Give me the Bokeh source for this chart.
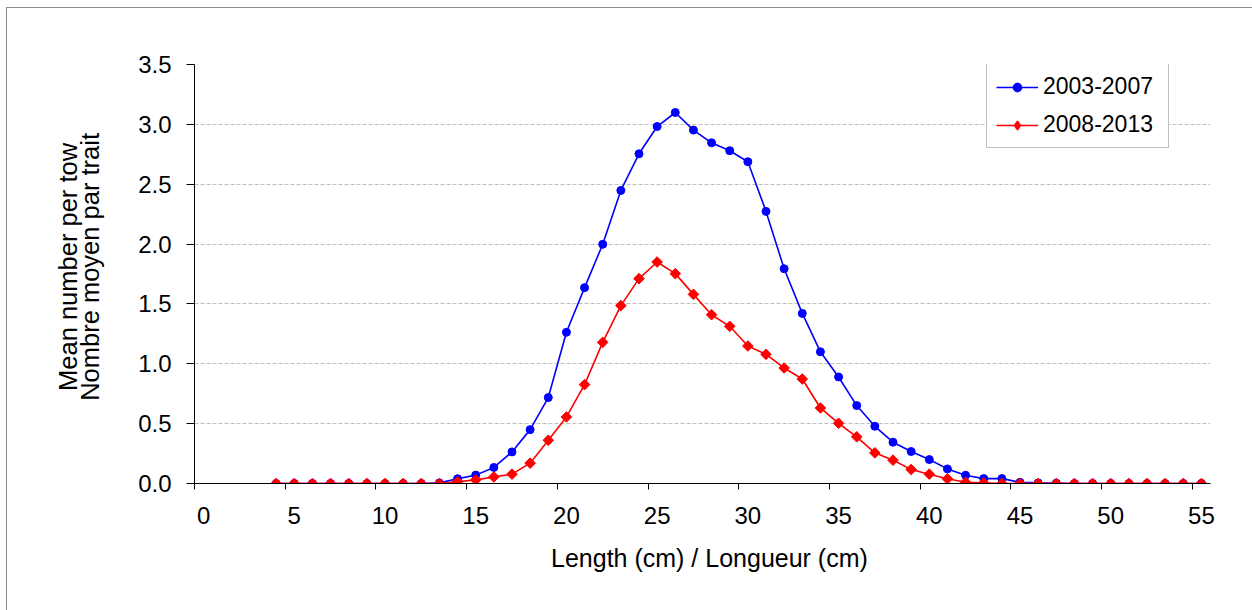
from bokeh.plotting import figure
from bokeh.models import (Range1d, FixedTicker, LinearAxis, Legend, LegendItem,
                          ColumnDataSource, CustomJSTickFormatter)
from bokeh.embed import file_html
from bokeh.resources import INLINE
import math

lengths = list(range(4, 56))
series_a_name = "2003-2007"
series_b_name = "2008-2013"
series_a = [0, 0, 0, 0, 0, 0, 0, 0,          # 4-11
            0.0, 0.005, 0.04, 0.07, 0.134, 0.264, 0.45, 0.718,   # 12-19
            1.263, 1.636, 1.998, 2.448, 2.754, 2.982, 3.099, 2.952,  # 20-27
            2.846, 2.78, 2.688, 2.273, 1.794, 1.421, 1.10, 0.89,   # 28-35
            0.651, 0.478, 0.345, 0.267, 0.20, 0.122, 0.069, 0.041,  # 36-43
            0.041, 0.01, 0.005, 0.003, 0, 0, 0, 0,   # 44-51
            0, 0, 0, 0]                              # 52-55
series_b = [0, 0, 0, 0, 0, 0, 0, 0,          # 4-11
            0.0, 0.0, 0.015, 0.03, 0.055, 0.078, 0.17, 0.361,   # 12-19
            0.556, 0.826, 1.179, 1.486, 1.711, 1.85, 1.753, 1.58,  # 20-27
            1.41, 1.313, 1.149, 1.079, 0.965, 0.873, 0.631, 0.503,  # 28-35
            0.39, 0.256, 0.195, 0.117, 0.078, 0.039, 0.01, 0.005,  # 36-43
            0, 0, 0, 0, 0, 0, 0, 0,   # 44-51
            0, 0, 0, 0]
x_tick_labels = [0, 5, 10, 15, 20, 25, 30, 35, 40, 45, 50, 55]
y_ticks = [0, 0.5, 1.0, 1.5, 2.0, 2.5, 3.0, 3.5]

FONT = "Liberation Sans"
NB = "\u00a0"

p = figure(width=1246, height=603, output_backend="svg", toolbar_location=None,
           x_range=Range1d(-0.5, 55.5), y_range=Range1d(0, 3.5),
           min_border_left=187, min_border_right=43, min_border_top=56, min_border_bottom=128,
           x_axis_location=None, y_axis_location=None)
p.styles = {"margin-left": "6px", "margin-top": "7px",
            "border-left": "1px solid #8c8c8c", "border-top": "1px solid #8c8c8c"}
p.outline_line_color = None
p.background_fill_color = "white"
p.border_fill_color = "white"

# Y axis (inner: ticks, labels, second title line)
yax = LinearAxis(ticker=FixedTicker(ticks=y_ticks))
yax.formatter = CustomJSTickFormatter(code="return tick.toFixed(1);")
yax.axis_label = NB * 3 + "Nombre moyen  par trait"
yax.axis_label_text_font = FONT
yax.axis_label_text_font_size = "25.5px"
yax.axis_label_text_font_style = "normal"
yax.axis_label_text_color = "black"
yax.axis_label_standoff = 31
yax.major_label_text_font = FONT
yax.major_label_text_font_size = "24px"
yax.major_label_text_color = "black"
yax.major_tick_out = 8
yax.major_tick_in = 0
yax.minor_tick_out = 0
yax.minor_tick_in = 0
yax.major_label_standoff = 15
yax.axis_line_color = "black"
yax.major_tick_line_color = "black"
p.add_layout(yax, "left")

# Y axis (outer: first title line only)
yax2 = LinearAxis(ticker=FixedTicker(ticks=[]))
yax2.axis_line_color = None
yax2.major_tick_line_color = None
yax2.minor_tick_line_color = None
yax2.major_tick_out = 0
yax2.major_tick_in = 0
yax2.major_label_standoff = 0
yax2.axis_label = NB * 3 + "Mean number  per tow"
yax2.axis_label_text_font = FONT
yax2.axis_label_text_font_size = "25.5px"
yax2.axis_label_text_font_style = "normal"
yax2.axis_label_text_color = "black"
yax2.axis_label_standoff = -8
p.add_layout(yax2, "left")

# X axis (tick marks at category boundaries)
xax = LinearAxis(ticker=FixedTicker(ticks=[t - 0.5 for t in x_tick_labels]))
xax.major_label_text_font_size = "0px"
xax.major_label_text_alpha = 0
xax.major_label_standoff = 0
xax.major_tick_out = 6
xax.major_tick_in = 0
xax.minor_tick_out = 0
xax.minor_tick_in = 0
xax.axis_line_color = "black"
xax.major_tick_line_color = "black"
p.add_layout(xax, "below")

# X axis labels (at category centres)
xlab = LinearAxis(ticker=FixedTicker(ticks=x_tick_labels))
xlab.axis_line_color = None
xlab.major_tick_line_color = None
xlab.minor_tick_line_color = None
xlab.major_label_text_font = FONT
xlab.major_label_text_font_size = "24px"
xlab.major_label_text_color = "black"
xlab.major_label_standoff = 11
xlab.axis_label = NB * 3 + "Length (cm) / Longueur  (cm)"
xlab.axis_label_text_font = FONT
xlab.axis_label_text_font_size = "25px"
xlab.axis_label_text_font_style = "normal"
xlab.axis_label_text_color = "black"
xlab.axis_label_standoff = 17
p.add_layout(xlab, "below")

p.xgrid.visible = False
p.ygrid.ticker = FixedTicker(ticks=y_ticks[1:])
p.ygrid.grid_line_color = "#bfbfbf"
p.ygrid.grid_line_dash = "4 2"
p.ygrid.grid_line_width = 1

angles = [math.pi / 4] * len(lengths)
src = ColumnDataSource(dict(x=lengths, a=series_a, b=series_b, ang=angles))

la = p.line("x", "a", source=src, line_color="#0000ff", line_width=1.6)
ma = p.scatter("x", "a", source=src, marker="circle", size=8,
               fill_color="#0000ff", line_color="#0000ff")
lb = p.line("x", "b", source=src, line_color="#ff0000", line_width=1.6)
mb = p.scatter("x", "b", source=src, marker="square", size=7.5, angle="ang",
               fill_color="#ff0000", line_color="#ff0000")
# legend-only diamond marker (not drawn in the plot area)
mb_leg = p.scatter("x", "b", source=src, marker="diamond", size=12,
                   fill_color="#ff0000", line_color="#ff0000", line_width=1.5,
                   visible=False)

legend = Legend(items=[LegendItem(label=series_a_name + " ", renderers=[la, ma]),
                       LegendItem(label=series_b_name + " ", renderers=[lb, mb_leg])],
                location=(792, 335))
legend.label_text_font = FONT
legend.label_text_font_size = "23px"
legend.label_text_color = "black"
legend.label_height = 22
legend.glyph_height = 22
legend.glyph_width = 42
legend.spacing = 11
legend.padding = 9
legend.margin = 0
legend.label_standoff = 5
legend.border_line_color = "#808080"
legend.border_line_width = 1
legend.background_fill_color = "white"
legend.background_fill_alpha = 1
p.add_layout(legend, "center")

open("out.html", "w").write(file_html(p, INLINE))
